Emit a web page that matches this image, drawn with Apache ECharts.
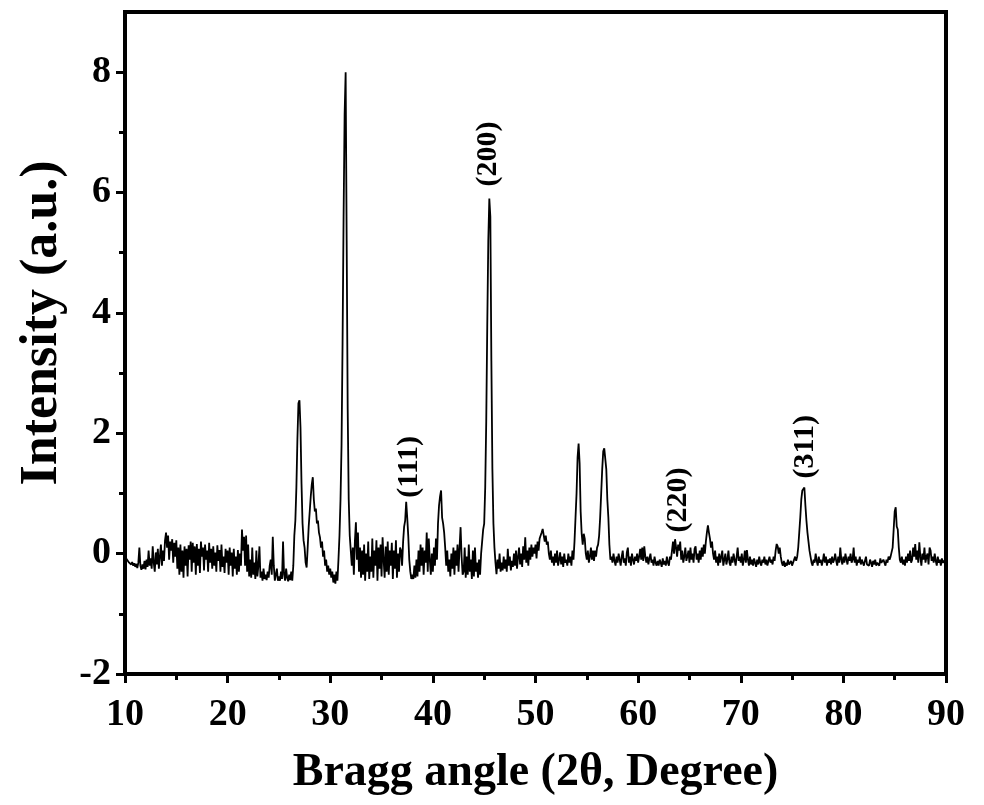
<!DOCTYPE html>
<html>
<head>
<meta charset="utf-8">
<script src="https://cdn.jsdelivr.net/npm/echarts@6/dist/echarts.min.js"></script>
<style>
html,body{margin:0;padding:0;background:#fff;}
#chart{width:984px;height:805px;}
</style>
</head>
<body>
<div id="chart"></div>
<script>
// Sampling of the scan: 2θ from 10° in steps of 0.1°
const angleStart = 10;
const angleStep = 0.1;
// Intensity (a.u.), one row per degree (10.0 ... 89.9), then 90.0
const intensity = [
-0.05,-0.02,-0.10,-0.08,-0.15,-0.12,-0.18,-0.14,-0.20,-0.16,
-0.22,-0.17,-0.24,-0.15,0.10,-0.20,-0.27,-0.18,-0.25,-0.12,
-0.26,-0.10,-0.22,0.05,-0.20,-0.08,-0.25,0.12,-0.15,-0.30,
0.02,-0.18,0.08,-0.25,-0.05,0.15,-0.20,0.05,-0.12,0.22,
0.35,0.10,0.30,-0.10,0.20,0.05,0.24,-0.15,0.18,-0.05,
0.22,-0.25,0.10,-0.35,0.15,-0.30,0.05,-0.40,0.12,-0.20,
0.08,-0.38,0.14,-0.10,0.20,-0.30,0.18,-0.15,0.12,-0.35,
0.16,-0.20,0.08,-0.32,0.20,-0.05,0.10,-0.28,0.15,-0.10,
0.05,-0.30,0.18,-0.15,0.08,-0.25,0.12,-0.20,0.02,-0.30,
0.14,-0.12,0.06,-0.30,0.15,-0.22,-0.05,-0.32,0.08,-0.15,
0.05,-0.35,0.10,-0.20,0.02,-0.38,0.08,-0.25,-0.05,-0.35,
0.06,-0.30,0.00,-0.20,0.40,0.05,0.28,-0.20,0.30,-0.30,
0.15,-0.38,-0.10,-0.40,0.10,-0.35,-0.15,-0.42,0.05,-0.38,
-0.20,0.12,-0.40,-0.30,-0.45,-0.25,-0.42,-0.35,-0.44,-0.30,
-0.40,-0.20,-0.10,-0.35,0.28,-0.20,-0.45,-0.35,-0.25,-0.45,
-0.38,-0.45,-0.30,-0.42,0.20,-0.35,-0.45,-0.25,-0.40,-0.46,
-0.35,-0.44,-0.30,-0.45,-0.20,0.30,0.55,1.10,1.90,2.50,
2.55,2.10,1.16,0.50,0.22,0.10,-0.15,-0.23,0.10,0.45,
0.70,0.95,1.15,1.27,0.90,0.70,0.75,0.50,0.55,0.35,
0.27,0.10,0.20,-0.05,0.05,-0.20,-0.10,-0.30,-0.20,-0.35,
-0.25,-0.40,-0.30,-0.48,-0.35,-0.50,-0.30,-0.45,-0.10,0.30,
0.90,1.80,3.50,5.60,7.30,8.00,5.20,2.40,0.90,0.30,
0.05,-0.20,0.10,-0.35,0.20,0.52,-0.10,0.35,-0.30,0.10,
-0.40,0.05,-0.35,0.15,-0.45,0.00,-0.30,0.20,-0.42,-0.05,
-0.30,0.25,-0.40,0.05,-0.20,0.22,-0.45,0.10,-0.25,0.15,
-0.38,0.27,-0.10,-0.40,0.12,-0.30,0.20,-0.35,0.05,-0.20,
0.18,-0.42,0.05,-0.25,0.22,-0.40,0.00,-0.30,0.10,0.05,
-0.20,0.20,0.45,0.55,0.86,0.60,0.30,-0.10,-0.30,-0.42,
-0.35,-0.42,-0.20,-0.40,-0.10,-0.38,0.05,-0.30,0.15,-0.20,
0.10,-0.35,0.05,-0.15,0.35,-0.30,0.25,-0.10,-0.35,0.00,
-0.30,0.10,-0.20,0.25,-0.10,0.50,0.80,0.95,1.05,0.60,
0.50,0.35,0.10,-0.20,0.05,-0.30,-0.10,-0.38,0.00,-0.25,
0.10,-0.35,0.05,-0.20,0.15,-0.30,0.10,0.44,-0.05,-0.35,
-0.30,0.10,-0.40,-0.05,-0.35,0.15,-0.30,-0.10,-0.42,0.05,
-0.38,0.10,-0.30,-0.15,-0.40,-0.10,-0.35,0.00,0.20,0.40,
0.50,1.10,2.20,3.80,5.20,5.90,5.60,3.20,1.40,0.50,
0.10,-0.15,-0.34,-0.10,-0.25,0.00,-0.30,-0.15,-0.28,-0.05,
-0.25,-0.10,-0.30,0.08,-0.20,-0.05,-0.28,-0.12,-0.22,0.00,
-0.20,0.05,-0.25,-0.05,0.10,-0.18,0.00,-0.22,0.12,-0.10,
0.27,-0.15,0.05,-0.20,0.10,-0.10,0.15,-0.05,0.10,0.00,
0.15,-0.08,0.20,0.05,0.25,0.30,0.35,0.41,0.38,0.20,
0.30,0.15,0.20,0.00,-0.10,0.05,-0.15,-0.05,-0.20,0.00,
-0.15,0.05,-0.20,-0.10,0.02,-0.18,-0.05,-0.22,0.00,-0.15,
-0.10,-0.20,0.00,-0.15,-0.05,-0.20,0.05,-0.10,0.20,0.60,
1.00,1.60,1.83,1.50,0.70,0.33,0.15,0.33,0.25,0.00,
-0.10,0.05,-0.15,-0.05,0.10,-0.10,0.05,-0.12,0.05,-0.05,
0.10,0.15,0.30,0.60,1.00,1.40,1.70,1.75,1.78,1.40,
0.90,0.60,0.15,-0.10,-0.05,-0.15,0.00,-0.12,-0.20,-0.05,
-0.15,0.00,-0.10,-0.20,-0.05,0.05,-0.15,-0.08,-0.20,0.02,
0.10,-0.15,-0.05,-0.20,0.00,-0.10,-0.18,-0.05,-0.12,0.00,
-0.15,-0.05,0.08,-0.10,0.10,-0.12,0.12,-0.05,-0.15,-0.05,
-0.18,-0.08,0.00,-0.15,-0.10,-0.20,-0.05,-0.15,-0.20,-0.12,
-0.20,-0.10,-0.15,-0.22,-0.08,-0.18,-0.12,-0.20,-0.05,-0.15,
-0.20,-0.05,-0.10,0.05,0.20,0.00,0.24,0.10,-0.05,0.15,
0.05,0.20,-0.10,0.05,-0.15,-0.05,0.10,-0.12,-0.05,0.05,
-0.15,0.10,-0.10,0.00,-0.15,0.08,0.12,-0.10,0.00,-0.15,
0.05,-0.10,0.10,-0.05,0.15,0.00,0.20,0.35,0.47,0.35,
0.25,0.10,0.20,0.00,-0.10,0.05,-0.15,-0.05,-0.20,0.00,
-0.15,-0.05,0.05,-0.20,-0.10,0.00,-0.18,-0.10,0.05,-0.15,
-0.20,-0.05,-0.15,0.00,-0.10,-0.20,-0.05,0.10,-0.12,-0.05,
-0.15,0.00,-0.20,-0.10,0.05,-0.15,0.06,-0.10,-0.20,-0.05,
-0.18,-0.10,-0.20,-0.08,-0.15,-0.22,-0.10,-0.18,-0.05,-0.15,
-0.20,-0.10,-0.15,-0.05,-0.18,-0.10,-0.20,-0.12,-0.05,-0.15,
-0.10,-0.18,-0.05,-0.12,0.05,0.16,0.12,0.00,0.10,-0.05,
-0.15,-0.20,-0.12,-0.22,-0.15,-0.20,-0.10,-0.18,-0.20,-0.12,
-0.20,-0.15,-0.18,-0.05,-0.12,-0.05,0.10,0.35,0.60,0.90,
1.05,1.08,1.10,0.80,0.55,0.35,0.20,0.05,-0.05,-0.15,
-0.20,-0.10,-0.15,0.00,-0.12,-0.20,-0.05,-0.15,-0.10,-0.20,
-0.12,0.00,-0.15,-0.05,-0.20,-0.10,-0.15,-0.08,-0.18,-0.05,
-0.15,-0.10,0.00,-0.12,-0.20,-0.05,-0.15,0.10,-0.10,-0.18,
-0.05,-0.15,0.00,-0.10,-0.18,-0.05,-0.12,0.00,-0.15,-0.10,
0.10,-0.15,-0.05,-0.20,-0.10,-0.15,-0.05,-0.18,-0.10,-0.15,
-0.20,-0.12,-0.05,-0.18,-0.15,-0.20,-0.10,-0.15,-0.22,-0.12,
-0.18,-0.10,-0.20,-0.15,-0.12,-0.20,-0.08,-0.15,-0.18,-0.10,
-0.15,-0.20,-0.10,-0.15,-0.05,-0.10,-0.05,-0.05,0.10,0.40,
0.70,0.77,0.45,0.40,0.10,-0.10,-0.15,-0.05,-0.18,-0.10,
-0.20,-0.05,-0.15,0.00,-0.12,0.05,-0.15,-0.10,0.10,-0.05,
0.16,-0.10,0.05,-0.15,0.19,-0.05,-0.20,0.00,-0.10,0.10,
-0.15,-0.05,0.00,-0.18,0.10,0.05,-0.12,-0.05,-0.15,0.00,
-0.12,-0.20,-0.05,-0.15,-0.10,-0.20,-0.08,-0.15,-0.12,-0.10,
-0.12
];
// Peak annotations (Miller indices)
const peakLabels = ['(111)', '(200)', '(220)', '(311)'];
const peakLabelAngle = [37.65, 45.4, 63.9, 76.26];
const peakLabelBase = [0.93, 6.1, 0.35, 1.25];
// Axis ticks
const xMin = 10, xMax = 90, xStep = 10;
const yMin = -2, yMax = 9;
const yMajorTicks = [-2, 0, 2, 4, 6, 8];
const yMinorTicks = [-1, 1, 3, 5, 7];
const xTitle = 'Bragg angle (2θ, Degree)';
const yTitle = 'Intensity (a.u.)';

const pattern = intensity.map((v, i) => [+(angleStart + i * angleStep).toFixed(2), v]);
const annotations = peakLabels.map((t, i) => [peakLabelAngle[i], peakLabelBase[i], t]);

const FONT = 'Liberation Serif';
const chart = echarts.init(document.getElementById('chart'), null, {renderer: 'canvas'});
chart.setOption({
  backgroundColor: '#fff',
  animation: false,
  grid: {left: 125, right: 38, top: 12, bottom: 131, show: true, borderColor: '#000', borderWidth: 4, backgroundColor: 'transparent'},
  xAxis: {
    type: 'value', min: xMin, max: xMax, interval: xStep,
    name: xTitle, nameLocation: 'middle', nameGap: 76,
    nameTextStyle: {fontFamily: FONT, fontWeight: 'bold', fontSize: 46, color: '#000'},
    axisLine: {show: true, onZero: false, lineStyle: {color: '#000', width: 4}},
    axisTick: {show: true, inside: false, length: 9, lineStyle: {color: '#000', width: 3}},
    minorTick: {show: true, splitNumber: 2, length: 6, lineStyle: {color: '#000', width: 3}},
    axisLabel: {fontFamily: FONT, fontWeight: 'bold', fontSize: 38, color: '#000', margin: 22},
    splitLine: {show: false}
  },
  yAxis: [{
    type: 'value', min: yMin, max: yMax,
    name: yTitle, nameLocation: 'middle', nameGap: 53,
    nameTextStyle: {fontFamily: FONT, fontWeight: 'bold', fontSize: 52, color: '#000', padding: [0, 0, 0, 40]},
    axisLine: {show: true, onZero: false, lineStyle: {color: '#000', width: 4}},
    axisTick: {show: true, inside: false, length: 9, customValues: yMajorTicks, lineStyle: {color: '#000', width: 3}},
    axisLabel: {fontFamily: FONT, fontWeight: 'bold', fontSize: 38, color: '#000', margin: 14, customValues: yMajorTicks},
    splitLine: {show: false}
  }, {
    type: 'value', min: yMin, max: yMax, position: 'left',
    axisLine: {show: false, onZero: false},
    axisTick: {show: true, inside: false, length: 6, customValues: yMinorTicks, lineStyle: {color: '#000', width: 3}},
    axisLabel: {show: false},
    splitLine: {show: false}
  }],
  series: [{
    type: 'line', data: pattern, showSymbol: false, symbol: 'none',
    lineStyle: {color: '#000', width: 1.8}, z: 3
  }, {
    type: 'scatter', data: annotations, symbolSize: 0,
    itemStyle: {color: '#000'},
    label: {
      show: true, position: [0, 0], rotate: 90, align: 'left', verticalAlign: 'middle',
      formatter: p => p.data[2], opacity: 1, textBorderWidth: 0,
      fontFamily: FONT, fontWeight: 'bold', fontSize: 30, color: '#000'
    }, z: 4
  }]
});
</script>
</body>
</html>
